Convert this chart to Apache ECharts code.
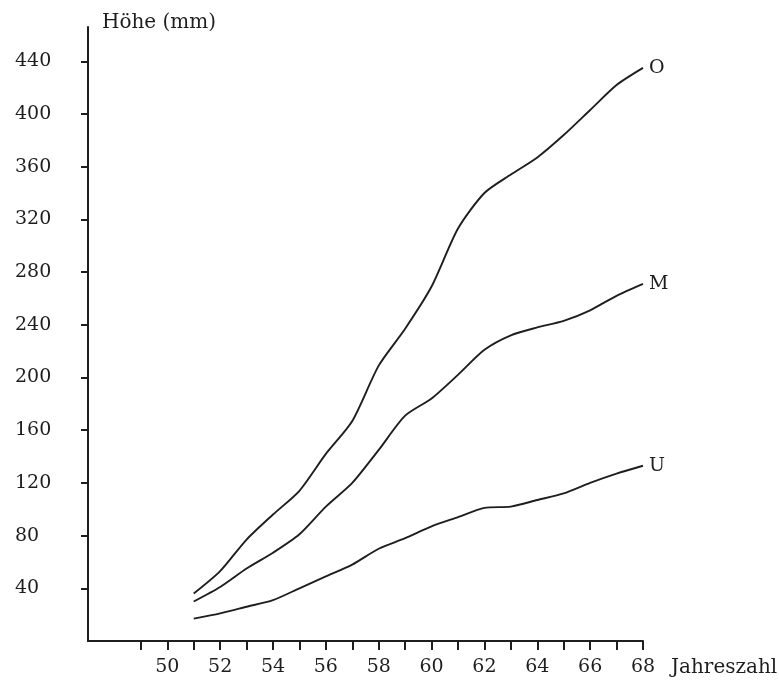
<!DOCTYPE html>
<html>
<head>
<meta charset="utf-8">
<script src="https://cdn.jsdelivr.net/npm/echarts@6/dist/echarts.min.js"></script>
<style>
html,body{margin:0;padding:0;background:#fff;}
#c{width:779px;height:683px;}
</style>
</head>
<body>
<div id="c"></div>
<script>
const years = [51,52,53,54,55,56,57,58,59,60,61,62,63,64,65,66,67,68];
const seriesO = [36,53,77,96,114,142,167,209,237,269,313,340,354,367,384,403,422,435];
const seriesM = [30,41,55,67,81,102,120,145,171,184,202,221,232,238,243,251,262,271];
const seriesU = [17,21,26,31,40,49,58,70,78,87,94,101,102,107,112,120,127,133];
const seriesNames = ['O','M','U'];
const yTickValues = [40,80,120,160,200,240,280,320,360,400,440];
const xTickValues = [49,50,51,52,53,54,55,56,57,58,59,60,61,62,63,64,65,66,67,68];
const xLabelValues = [50,52,54,56,58,60,62,64,66,68];
const xName = 'Jahreszahl';
const yName = 'Höhe (mm)';

const FONT = 'DejaVu Serif';
const INK = '#1e1e1e';

function pairs(vals){ return years.map((y,i)=>[y, vals[i]]); }

const chart = echarts.init(document.getElementById('c'), null, {renderer:'canvas'});
const lineSeries = [seriesO, seriesM, seriesU].map((vals, i) => ({
  type: 'line',
  name: seriesNames[i],
  data: pairs(vals),
  smooth: 0.25,
  symbol: 'none',
  lineStyle: {color: INK, width: 1.9},
  endLabel: {
    show: true,
    formatter: seriesNames[i],
    distance: 6,
    fontFamily: FONT,
    fontSize: 19,
    color: INK
  },
  animation: false
}));

chart.setOption({
  backgroundColor: '#fff',
  animation: false,
  grid: {left: 88, right: 136, top: 27, bottom: 42, containLabel: false, outerBoundsMode: 'none'},
  xAxis: {
    type: 'value',
    min: 47, max: 68,
    name: xName,
    nameLocation: 'end',
    nameGap: 28,
    nameTextStyle: {fontFamily: FONT, fontSize: 20, color: INK, verticalAlign: 'top', padding: [17,0,0,0]},
    axisLine: {show: true, lineStyle: {color: INK, width: 2}},
    axisTick: {show: true, inside: false, length: 9, customValues: xTickValues, lineStyle: {color: INK, width: 2}},
    axisLabel: {show: true, customValues: xLabelValues, margin: 17, fontFamily: FONT, fontSize: 19, color: INK},
    splitLine: {show: false}
  },
  yAxis: {
    type: 'value',
    min: 0, max: 466,
    name: yName,
    nameLocation: 'end',
    nameGap: -6,
    nameTextStyle: {fontFamily: FONT, fontSize: 20, color: INK, align: 'left', padding: [0,0,0,14]},
    axisLine: {show: true, lineStyle: {color: INK, width: 2}},
    axisTick: {show: true, inside: false, length: 7, customValues: yTickValues, lineStyle: {color: INK, width: 2}},
    axisLabel: {show: true, customValues: yTickValues, margin: 73, align: 'left', fontFamily: FONT, fontSize: 19, color: INK},
    splitLine: {show: false}
  },
  series: lineSeries
});
</script>
</body>
</html>
